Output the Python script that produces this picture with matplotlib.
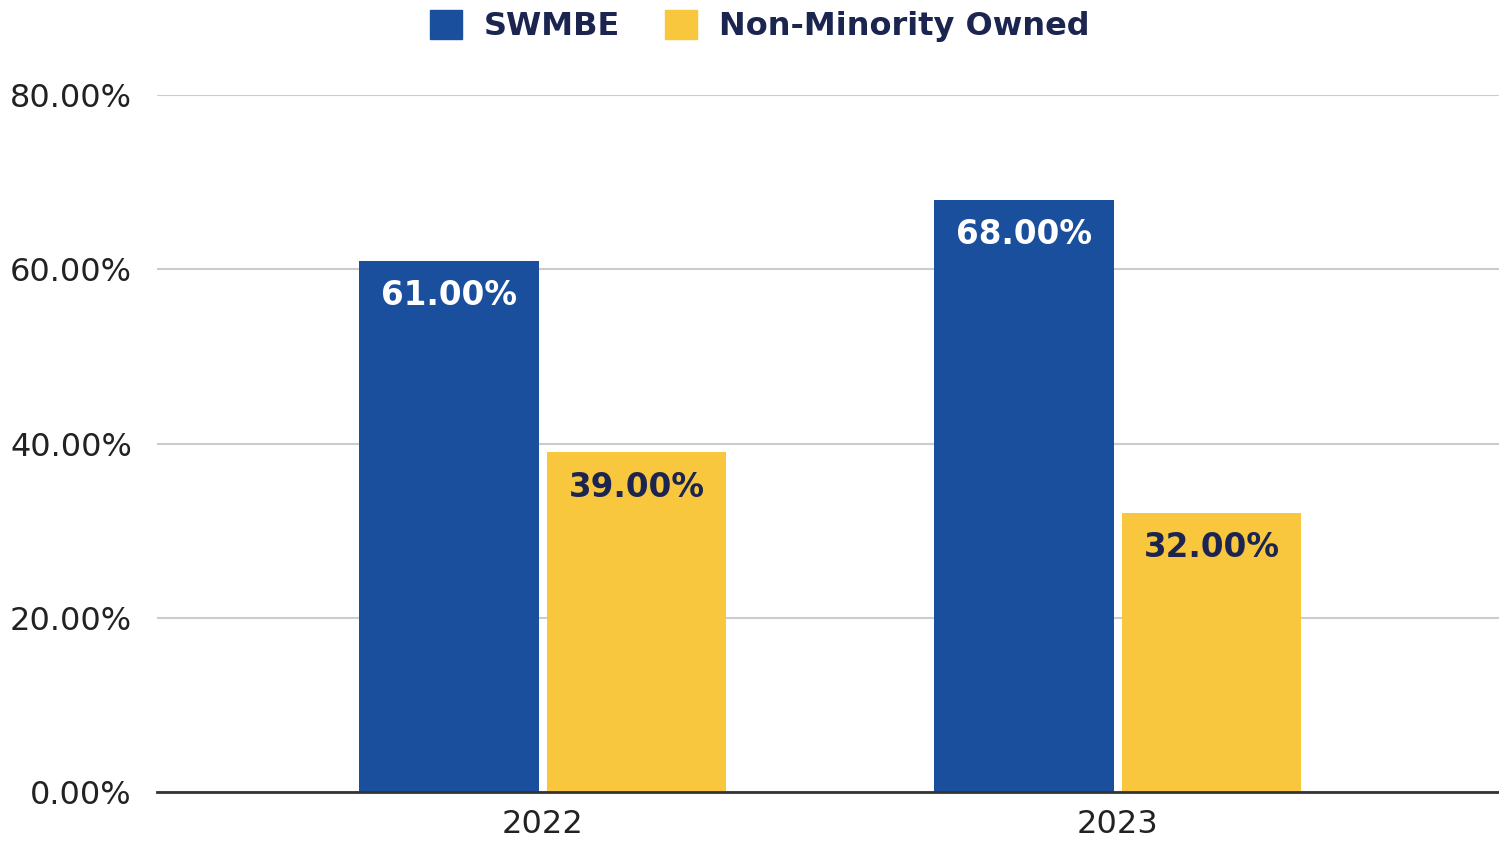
import matplotlib.pyplot as plt
from matplotlib.patches import Patch

years = ["2022", "2023"]
swmbe = [61.00, 68.00]
non_minority = [39.00, 32.00]
series_names = ["SWMBE", "Non-Minority Owned"]

BLUE = "#1A4F9E"
YELLOW = "#F9C73D"
NAVY = "#1B2550"

fig = plt.figure(figsize=(14.99, 8.43), dpi=100)
ax = fig.add_axes([0.1047, 0.0605, 0.8953, 0.8268])

x = list(range(len(years)))
w = 0.313
off = 0.163
b1 = ax.bar([i - off for i in x], swmbe, width=w, color=BLUE, zorder=3)
b2 = ax.bar([i + off for i in x], non_minority, width=w, color=YELLOW, zorder=3)

# value labels just inside the top of each bar
for bars, vals, col in [(b1, swmbe, "white"), (b2, non_minority, NAVY)]:
    for r, v in zip(bars, vals):
        ax.text(r.get_x() + r.get_width() / 2, v - 2.1, "%.2f%%" % v,
                ha="center", va="top", color=col, fontsize=23.5,
                fontweight="bold", zorder=4)

ax.set_xlim(-0.671, 1.663)
ax.set_ylim(0, 80)
ax.set_yticks([0, 20, 40, 60, 80])
ax.set_yticklabels(["%.2f%%" % t for t in [0, 20, 40, 60, 80]])
ax.set_xticks(x)
ax.set_xticklabels(years)
ax.tick_params(axis="both", length=0, labelsize=23, labelcolor="#222222")
ax.tick_params(axis="y", pad=18)
ax.tick_params(axis="x", pad=12)

ax.yaxis.grid(True, color="#CCCCCC", linewidth=1.5, zorder=0)
for s in ["top", "right", "left"]:
    ax.spines[s].set_visible(False)
ax.spines["bottom"].set_color("#333333")
ax.spines["bottom"].set_linewidth(2)
ax.spines["bottom"].set_zorder(5)

handles = [Patch(color=BLUE), Patch(color=YELLOW)]
leg = fig.legend(handles, series_names, loc="upper center", ncol=2,
                 bbox_to_anchor=(0.507, 1.022), frameon=False,
                 handlelength=1.0, handleheight=1.0, columnspacing=1.4,
                 handletextpad=0.7,
                 prop={"size": 23, "weight": "bold"})
for t in leg.get_texts():
    t.set_color(NAVY)

fig.savefig("out.png", dpi=100)
